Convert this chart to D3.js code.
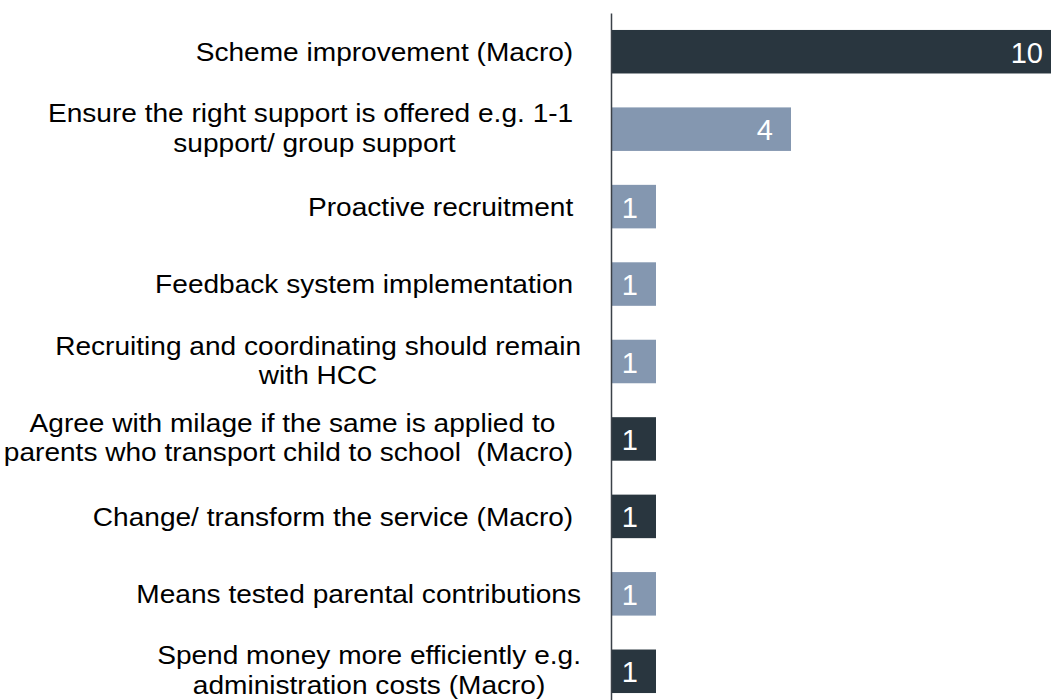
<!DOCTYPE html>
<html>
<head>
<meta charset="utf-8">
<script src="https://cdn.jsdelivr.net/npm/d3@7"></script>
<style>
  html, body { margin: 0; padding: 0; background: #fff; }
  svg { display: block; font-family: "Liberation Sans", Arial, sans-serif; }
</style>
</head>
<body>
<script>
// categories (each one split into its lines as shown on the axis, trailing spaces kept)
var categories = [
    ["Scheme improvement (Macro) "],
    ["Ensure the right support is offered e.g. 1-1 ", "support/ group support"],
    ["Proactive recruitment "],
    ["Feedback system implementation "],
    ["Recruiting and coordinating should remain", "with HCC"],
    ["Agree with milage if the same is applied to", "parents who transport child to school  (Macro) "],
    ["Change/ transform the service (Macro) "],
    ["Means tested parental contributions"],
    ["Spend money more efficiently e.g.", "administration costs (Macro)"]
];
var counts = [10, 4, 1, 1, 1, 1, 1, 1, 1];
var groups = ["Macro", "Other", "Other", "Other", "Other", "Macro", "Macro", "Other", "Macro"];

var width = 1051, height = 700;
var svg = d3.select("body").append("svg")
    .attr("width", width).attr("height", height);

var data = [];
for (var i = 0; i < counts.length; i++) {
    data.push({ key: i, lines: categories[i], count: counts[i], group: groups[i] });
}

var x = d3.scaleLinear()
    .domain([0, 10])
    .range([611, 1061]);   // the longest bar runs past the right edge

var y = d3.scaleBand()
    .domain(data.map(function(d) { return d.key; }))
    .range([13, 710])
    .paddingInner(0.438)
    .paddingOuter(0.219);

var colour = d3.scaleOrdinal()
    .domain(["Macro", "Other"])
    .range(["#29363f", "#8497b0"]);

// bars
svg.selectAll("rect.bar").data(data).enter().append("rect")
    .attr("class", "bar")
    .attr("x", x(0))
    .attr("y", function(d) { return y(d.key); })
    .attr("width", function(d) { return x(d.count) - x(0); })
    .attr("height", y.bandwidth())
    .attr("fill", function(d) { return colour(d.group); });

// value labels inside the end of each bar
svg.selectAll("text.val").data(data).enter().append("text")
    .attr("class", "val")
    .attr("x", function(d) { return x(d.count) - 18; })
    .attr("y", function(d) { return y(d.key) + y.bandwidth() / 2 + 11; })
    .attr("text-anchor", "end")
    .attr("fill", "#ffffff")
    .style("font-size", "29px")
    .text(function(d) { return d.count; });

// vertical axis line, no ticks
var axis = svg.append("g")
    .attr("transform", "translate(" + x(0) + ",0)")
    .call(d3.axisLeft(y).tickSize(0).tickSizeOuter(0).tickFormat(""));
axis.select(".domain").attr("stroke", "#3b4148").attr("stroke-width", 1.5);

// category labels: lines centred on each other, block right-aligned next to the axis
// (text is a little wide in the original, hence the slight horizontal stretch)
var rightEdge = 581, lineGap = 29.2, stretch = 1.08;
var labels = svg.selectAll("g.lab").data(data).enter().append("g")
    .attr("class", "lab")
    .attr("transform", "translate(" + rightEdge + ",0) scale(" + stretch + ",1)");

labels.each(function(d) {
    var g = d3.select(this);
    var n = d.lines.length;
    var cy = y(d.key) + y.bandwidth() / 2;
    var texts = g.selectAll("text").data(d.lines).enter().append("text")
        .attr("y", function(l, j) { return cy + 9.3 + (j - (n - 1) / 2) * lineGap - (n > 1 ? 1.5 : 0); })
        .attr("fill", "#000")
        .attr("text-anchor", "middle")
        .style("font-size", "26px")
        .style("white-space", "pre")
        .text(function(l) { return l; });
    var maxW = 0;
    texts.each(function() { maxW = Math.max(maxW, this.getComputedTextLength()); });
    texts.attr("x", -maxW / 2);
});
</script>
</body>
</html>
